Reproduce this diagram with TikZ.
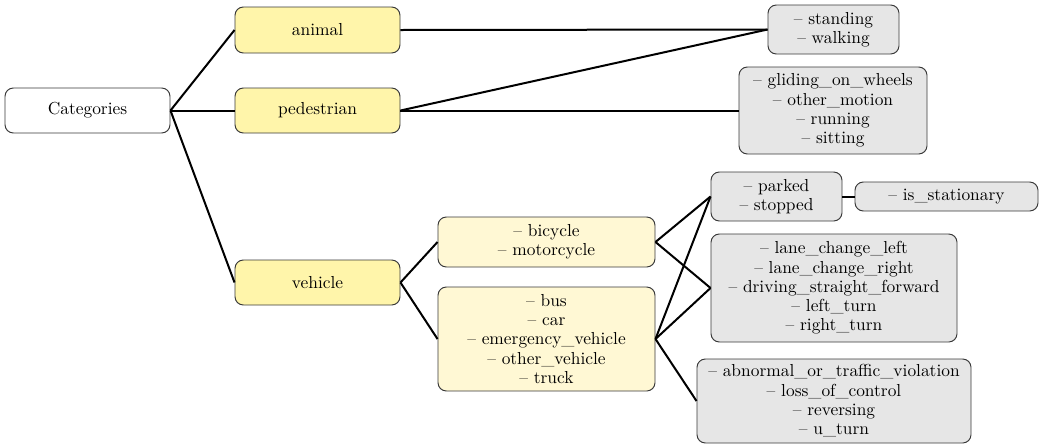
\documentclass[tikz,border=0pt]{standalone}
\usepackage{xcolor}
\definecolor{topfill}{HTML}{FFF5AA}
\definecolor{groupfill}{HTML}{FFF8D4}
\definecolor{leaffill}{HTML}{E6E6E6}
\definecolor{edgecol}{HTML}{3A3A3A}
\begin{document}
\begin{tikzpicture}[x=0.575pt, y=-0.575pt,
  sz/.style 2 args={minimum width=#1*0.575pt, minimum height=#2*0.575pt},
  box/.style={draw=edgecol, line width=0.55pt, rounded corners=4.8pt,
    inner sep=0pt, align=center, font=\fontsize{10pt}{11.1pt}\selectfont},
  rootbox/.style={box, fill=white},
  catbox/.style={box, fill=topfill},
  groupbox/.style={box, fill=groupfill},
  leafbox/.style={box, fill=leaffill},
  link/.style={line width=1.15pt, black}]
\useasboundingbox (0,0) rectangle (1039,445);

% root and top-level categories
\node[rootbox, sz={165}{45}] (cat) at (87.5,110.5) {Categories};
\node[catbox, sz={165}{46}] (animal) at (317.5,30) {animal};
\node[catbox, sz={165}{45}] (ped) at (317.5,110.5) {pedestrian};
\node[catbox, sz={165}{45}] (veh) at (317.5,282.5) {vehicle};

% vehicle groups
\node[groupbox, sz={217}{50}] (bike) at (546.5,242) {-- bicycle\\-- motorcycle};
\node[groupbox, sz={217}{104}] (bus) at (546.5,339) {-- bus\\-- car\\-- emergency\_vehicle\\-- other\_vehicle\\-- truck};

% actions
\node[leafbox, sz={131}{49}] (stand) at (833.5,29.5) {-- standing\\-- walking};
\node[leafbox, sz={188}{87}] (glide) at (833,110.5) {-- gliding\_on\_wheels\\-- other\_motion\\-- running\\-- sitting};
\node[leafbox, sz={131}{49}] (park) at (776.5,196.5) {-- parked\\-- stopped};
\node[leafbox, sz={183}{29}] (stat) at (946.5,196.5) {-- is\_stationary};
\node[leafbox, sz={246}{108}] (lane) at (834,288) {-- lane\_change\_left\\-- lane\_change\_right\\-- driving\_straight\_forward\\-- left\_turn\\-- right\_turn};
\node[leafbox, sz={274}{84}] (abn) at (834,401) {-- abnormal\_or\_traffic\_violation\\-- loss\_of\_control\\-- reversing\\-- u\_turn};

% connectors
\draw[link] (cat.east) -- (animal.west);
\draw[link] (cat.east) -- (ped.west);
\draw[link] (cat.east) -- (veh.west);
\draw[link] (animal.east) -- (stand.west);
\draw[link] (ped.east) -- (stand.west);
\draw[link] (ped.east) -- (glide.west);
\draw[link] (veh.east) -- (bike.west);
\draw[link] (veh.east) -- (bus.west);
\draw[link] (bike.east) -- (park.west);
\draw[link] (bike.east) -- (lane.west);
\draw[link] (bus.east) -- (park.west);
\draw[link] (bus.east) -- (lane.west);
\draw[link] (bus.east) -- (abn.west);
\draw[link] (park.east) -- (stat.west);
\end{tikzpicture}
\end{document}
